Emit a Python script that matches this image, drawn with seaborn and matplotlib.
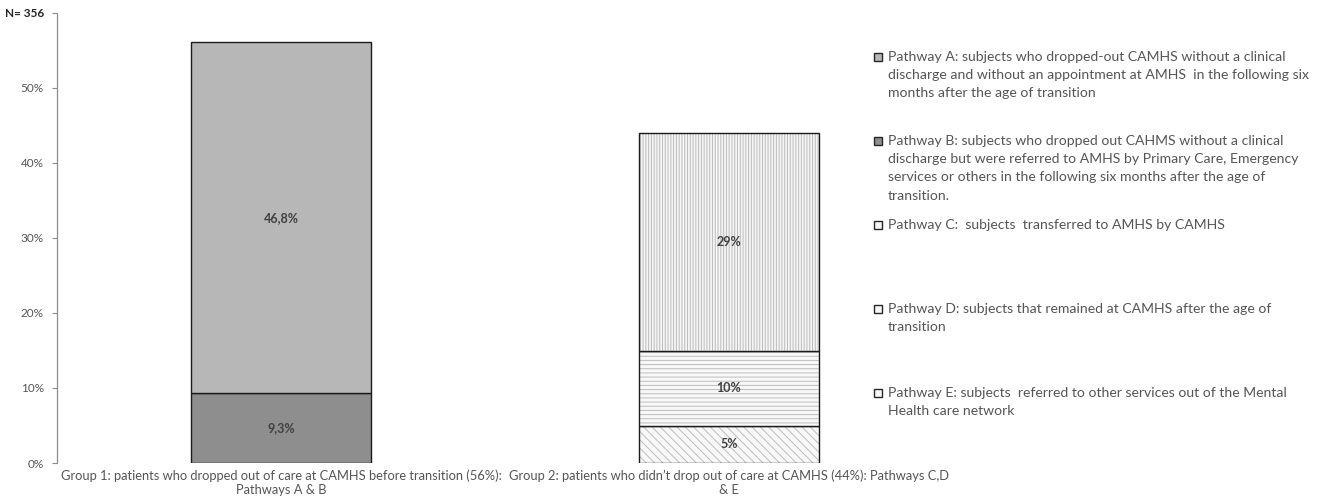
import matplotlib
matplotlib.use("Agg")
import matplotlib.pyplot as plt
from matplotlib.patches import Rectangle
import seaborn as sns
import pandas as pd

# ---- data ----
groups = [
    "Group 1: patients who dropped out of care at CAMHS before transition (56%):\nPathways A & B",
    "Group 2: patients who didn\u2019t drop out of care at CAMHS (44%): Pathways C,D\n& E",
]
seg_group = [0, 0, 1, 1, 1]
seg_pathway = ["B", "A", "E", "D", "C"]
seg_values = [9.3, 46.8, 5.0, 10.0, 29.0]
seg_labels = ["9,3%", "46,8%", "5%", "10%", "29%"]
ytick_values = [0, 10, 20, 30, 40, 50, 60]
ytick_labels = ["0%", "10%", "20%", "30%", "40%", "50%", "N= 356"]
legend_pathways = ["A", "B", "C", "D", "E"]
legend_texts = [
    "Pathway A: subjects who dropped-out CAMHS without a clinical\ndischarge and without an appointment at AMHS  in the following six\nmonths after the age of transition",
    "Pathway B: subjects who dropped out CAHMS without a clinical\ndischarge but were referred to AMHS by Primary Care, Emergency\nservices or others in the following six months after the age of\ntransition.",
    "Pathway C:  subjects  transferred to AMHS by CAMHS",
    "Pathway D: subjects that remained at CAMHS after the age of\ntransition",
    "Pathway E: subjects  referred to other services out of the Mental\nHealth care network",
]

# ---- styles ----
styles = {
    "A": dict(color="#b7b7b7", hatch=None),
    "B": dict(color="#8e8e8e", hatch=None),
    "C": dict(color="#f4f4f4", hatch="||||||"),
    "D": dict(color="#f8f8f8", hatch="----"),
    "E": dict(color="#f8f8f8", hatch="\\\\\\\\"),
}
hatch_col = "#bdbdbd"
text_col = "#555555"

sns.set_style("white")
plt.rcParams["font.family"] = ["Lato", "DejaVu Sans"]
plt.rcParams["hatch.linewidth"] = 0.7

fig = plt.figure(figsize=(13.25, 5.04), dpi=100)
ax = fig.add_axes([57 / 1325, 1 - 463 / 504, (953 - 57) / 1325, 450 / 504])

df = pd.DataFrame({
    "group": [groups[g] for g in seg_group],
    "pathway": seg_pathway,
    "value": seg_values,
    "label": seg_labels,
})
df["bottom"] = df.groupby("group", sort=False)["value"].cumsum() - df["value"]

for _, row in df.iterrows():
    st = styles[row["pathway"]]
    one = pd.DataFrame({"group": [row["group"]], "value": [row["value"]]})
    if st["hatch"]:
        sns.barplot(data=one, x="group", y="value", order=groups, ax=ax,
                    color=st["color"], saturation=1, width=0.4,
                    bottom=row["bottom"], hatch=st["hatch"],
                    edgecolor=hatch_col, linewidth=0, errorbar=None)
        sns.barplot(data=one, x="group", y="value", order=groups, ax=ax,
                    fill=False, width=0.4, bottom=row["bottom"],
                    edgecolor="#1a1a1a", linewidth=1.0, errorbar=None)
    else:
        sns.barplot(data=one, x="group", y="value", order=groups, ax=ax,
                    color=st["color"], saturation=1, width=0.4,
                    bottom=row["bottom"], edgecolor="#1a1a1a",
                    linewidth=1.0, errorbar=None)
    ax.text(groups.index(row["group"]), row["bottom"] + row["value"] / 2,
            row["label"], ha="center", va="center", fontsize=9,
            fontweight="bold", color="#404040")

ax.set_xlim(-0.5, 1.5)
ax.set_ylim(0, 60)
ax.set_yticks(ytick_values)
ax.set_yticklabels(ytick_labels)
for t in ax.get_yticklabels():
    t.set_color(text_col)
    t.set_fontsize(8.5)
top = ax.get_yticklabels()[-1]
top.set_color("#262626")
top.set_fontweight("bold")
top.set_fontsize(8.5)
ax.set_xlabel("")
ax.set_ylabel("")
ax.tick_params(axis="x", length=0, labelsize=9.3, labelcolor=text_col, pad=5)
ax.tick_params(axis="y", length=3.5, width=0.8, color="#8c8c8c", pad=6, left=True)
for s in ["top", "right", "bottom"]:
    ax.spines[s].set_visible(False)
ax.spines["left"].set_color("#8c8c8c")
ax.spines["left"].set_linewidth(0.9)

# ---- legend (manual, Excel-like) ----
legend_y = [57, 141, 225, 309, 393]
for pw, txt, y in zip(legend_pathways, legend_texts, legend_y):
    st = styles[pw]
    sq = 8
    rect = Rectangle((874 / 1325, 1 - (y + sq / 2) / 504), sq / 1325, sq / 504,
                     transform=fig.transFigure, facecolor=st["color"],
                     edgecolor="#262626", linewidth=1.0)
    fig.add_artist(rect)
    fig.text(888 / 1325, 1 - (y - 6) / 504, txt, ha="left", va="top",
             fontsize=10.1, color=text_col, linespacing=1.62)

fig.savefig("out.png", dpi=100)
